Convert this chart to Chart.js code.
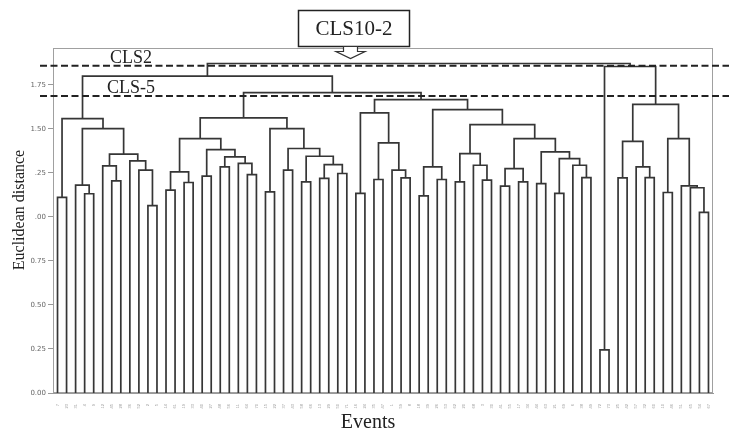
<!DOCTYPE html>
<html><head><meta charset="utf-8">
<script src="https://cdn.jsdelivr.net/npm/chart.js@4.4.1/dist/chart.umd.min.js"></script>
<style>html,body{margin:0;padding:0;background:#fff;}#wrap{width:729px;height:434px;}</style>
</head><body><div id="wrap"><canvas id="c" width="729" height="434"></canvas></div>
<script>
// Leaf (event) labels in dendrogram order
const leafLabels = [7,23,31,4,9,12,45,28,36,52,2,5,14,61,19,33,40,27,48,56,11,64,70,15,22,37,43,58,66,13,29,50,71,16,24,35,47,1,59,8,18,39,26,53,62,20,68,3,30,41,55,17,34,44,63,21,69,6,38,49,72,73,25,42,57,32,60,10,46,51,65,54,67].map(String);
// Merges: node ids 0..72 are leaves, 73+k is merge k
const mergeLeft  = [0,3,2,6,5,10,9,8,77,75,73, 12,14,84,16,18,21,20,88,87,86,23,25,27,29,31,97,96,95,94,93, 33,35,38,37,105,104,40,42,110,44,47,46,113,49,51,117,53,55,58,57,121,120,119,116,112,109,103,83, 60,62,65,64,133,71,70,69,67,140,136,132,131];
const mergeRight = [1,4,74,7,76,11,78,79,80,81,82, 13,15,85,17,19,22,89,90,91,92,24,26,28,30,32,98,99,100,101,102, 34,36,39,106,107,108,41,43,111,45,48,114,115,50,52,118,54,56,59,122,123,124,125,126,127,128,129,130, 61,63,66,134,135,72,137,138,68,139,141,142,143];
const mergeHeight= [1.111,1.132,1.181,1.205,1.290,1.064,1.266,1.319,1.357,1.502,1.559, 1.153,1.196,1.256,1.232,1.285,1.241,1.304,1.342,1.383,1.445,1.143,1.266,1.200,1.219,1.247,1.298,1.345,1.389,1.502,1.563, 1.134,1.213,1.222,1.266,1.421,1.591,1.120,1.213,1.285,1.200,1.209,1.294,1.360,1.175,1.200,1.275,1.190,1.134,1.224,1.294,1.332,1.370,1.445,1.525,1.610,1.667,1.706,1.800, 0.245,1.222,1.224,1.285,1.430,1.026,1.166,1.177,1.139,1.445,1.640,1.855,1.872];
const yTickValues = [0,0.25,0.5,0.75,1,1.25,1.5,1.75];
const yTickLabels = ["0.00","0.25","0.50","0.75",".00",".25","1.50","1.75"];
const cutHeights = [1.859,1.687];
const cutLabels = ["CLS2","CLS-5"];
const calloutText = "CLS10-2";
const yTitle = "Euclidean distance";
const xTitle = "Events";

const pos=[], hgt=[];
for(let i=0;i<leafLabels.length;i++){pos.push(i);hgt.push(0);}
const datasets=[];
for(let k=0;k<mergeHeight.length;k++){
  const a=mergeLeft[k], b=mergeRight[k], h=mergeHeight[k];
  datasets.push({data:[{x:pos[a],y:hgt[a]},{x:pos[a],y:h},{x:pos[b],y:h},{x:pos[b],y:hgt[b]}],
    borderColor:'#363636',borderWidth:1.7,pointRadius:0,fill:false,tension:0,showLine:true});
  pos.push((pos[a]+pos[b])/2); hgt.push(h);
}
const serif="'Liberation Serif','DejaVu Serif',serif";
const deco={
  id:'deco',
  beforeDatasetsDraw(chart){
    const {ctx,chartArea:ca}=chart;
    ctx.save();ctx.strokeStyle='#a0a0a0';ctx.lineWidth=1;
    ctx.strokeRect(ca.left+0.5,ca.top+0.5,ca.right-ca.left-1,ca.bottom-ca.top-1);
    ctx.restore();
  },
  afterDraw(chart){
    const {ctx,chartArea:ca,scales:{y}}=chart;
    ctx.save();
    // cut lines
    ctx.strokeStyle='#222';ctx.lineWidth=2;ctx.setLineDash([7,3.5]);
    cutHeights.forEach(v=>{const py=y.getPixelForValue(v);ctx.beginPath();ctx.moveTo(40,py);ctx.lineTo(729,py);ctx.stroke();});
    ctx.setLineDash([]);
    ctx.fillStyle='#222';ctx.font='18px '+serif;ctx.textAlign='center';ctx.textBaseline='alphabetic';
    cutLabels.forEach((t,i)=>{const py=y.getPixelForValue(cutHeights[i]);ctx.fillText(t,131,py-3);});
    // callout box
    ctx.fillStyle='#fff';ctx.fillRect(298.5,10.5,111,36);
    ctx.strokeStyle='#222';ctx.lineWidth=1.5;ctx.strokeRect(298.5,10.5,111,36);
    ctx.fillStyle='#222';ctx.font='21px '+serif;ctx.textBaseline='middle';
    ctx.fillText(calloutText,354,29);
    // hollow arrow
    ctx.beginPath();
    ctx.moveTo(343.5,46.5);ctx.lineTo(357.5,46.5);ctx.lineTo(357.5,51.5);ctx.lineTo(365,51.5);
    ctx.lineTo(350.5,58.5);ctx.lineTo(336,51.5);ctx.lineTo(343.5,51.5);ctx.closePath();
    ctx.fillStyle='#fff';ctx.fill();ctx.lineWidth=1.2;ctx.strokeStyle='#333';ctx.stroke();
    // axis titles
    ctx.fillStyle='#222';ctx.font='16px '+serif;
    ctx.translate(20,210);ctx.rotate(-Math.PI/2);ctx.fillText(yTitle,0,0);
    ctx.setTransform(1,0,0,1,0,0);
    ctx.font='20px '+serif;ctx.fillText(xTitle,368,423);
    ctx.restore();
  }
};
new Chart(document.getElementById('c'),{
  type:'line',
  data:{datasets},
  options:{
    responsive:false,devicePixelRatio:1,animation:false,
    layout:{padding:{top:48,right:16,left:0,bottom:0}},
    plugins:{legend:{display:false},tooltip:{enabled:false}},
    scales:{
      x:{type:'linear',min:-0.5,max:leafLabels.length-0.5,
        afterBuildTicks:s=>{s.ticks=leafLabels.map((_,i)=>({value:i}));},
        ticks:{autoSkip:false,maxRotation:90,minRotation:90,font:{size:4},color:'#999',padding:3,
          callback:(v)=>leafLabels[Math.round(v)]},
        grid:{display:false},border:{display:true,color:'#999',width:1},
        afterFit:s=>{s.height=41;}},
      y:{min:0,max:1.96,
        afterBuildTicks:s=>{s.ticks=yTickValues.map(v=>({value:v}));},
        ticks:{callback:(v,i)=>yTickLabels[i],font:{size:7,family:'DejaVu Sans'},color:'#666',padding:2},
        grid:{display:true,drawOnChartArea:false,tickLength:5,color:'#999'},
        border:{color:'#999'},
        afterFit:s=>{s.width=53;}}
    }
  },
  plugins:[deco]
});
</script></body></html>
